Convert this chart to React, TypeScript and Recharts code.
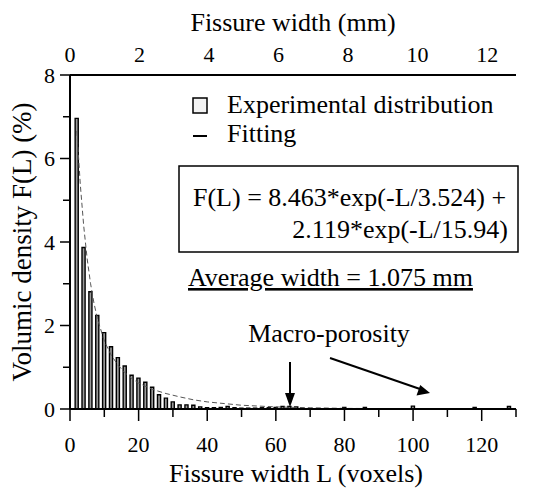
import React from 'react';
import { ComposedChart, Bar, Line, XAxis, YAxis, Legend } from 'recharts';

const FONT = '"Liberation Serif", "Times New Roman", serif';

// Experimental distribution (bars): fissure width L in voxels, density in %
const barWidthsVoxels = [
  2, 4, 6, 8, 10, 12, 14, 16, 18, 20, 22, 24, 26, 28, 30, 32, 34, 36,
  38, 40, 42, 44, 46, 48, 50, 52, 54, 56, 58, 60, 62, 64, 66,
  80, 86, 100, 118, 128,
];
const barDensities = [
  6.96, 3.87, 2.81, 2.24, 1.83, 1.49, 1.23, 1.03, 0.81, 0.74, 0.64, 0.52, 0.34, 0.26, 0.17, 0.1, 0.1, 0.09,
  0.05, 0.03, 0.03, 0.04, 0.06, 0.03, 0.02, 0.02, 0.02, 0.03, 0.03, 0.04, 0.06, 0.06, 0.05,
  0.04, 0.04, 0.07, 0.04, 0.06,
];

// Fitting curve
const fitWidthsVoxels = [2, 3, 4, 5, 6, 7, 8, 10, 12, 14, 16, 18, 20, 24, 28, 32, 36, 40, 45, 50, 55, 60, 70, 80, 90, 100, 110, 120, 130];
const fitDensities = [6.66, 5.38, 4.38, 3.6, 3.0, 2.53, 2.16, 1.63, 1.29, 1.05, 0.87, 0.73, 0.62, 0.47, 0.37, 0.29, 0.22, 0.17, 0.13, 0.09, 0.07, 0.05, 0.03, 0.015, 0.01, 0.006, 0.004, 0.002, 0.001];

const yTicks = [0, 1, 2, 3, 4, 5, 6, 7, 8];
const xTicksVoxels = [0, 10, 20, 30, 40, 50, 60, 70, 80, 90, 100, 110, 120, 130];
const xTicksMm = [0, 2, 4, 6, 8, 10, 12];
const mmDomainMax = 12.83;

const rowsMap = new Map<number, any>();
barWidthsVoxels.forEach((L, i) => {
  rowsMap.set(L, { ...(rowsMap.get(L) || { L }), exp: barDensities[i] });
});
fitWidthsVoxels.forEach((L, i) => {
  rowsMap.set(L, { ...(rowsMap.get(L) || { L }), fit: fitDensities[i] });
});
const data = Array.from(rowsMap.values()).sort((a, b) => a.L - b.L);

const YTick = (props: any) => {
  const { x, y, payload } = props;
  const major = payload.value % 2 === 0;
  return (
    <g>
      <line x1={x - (major ? 10 : 7)} x2={x} y1={y} y2={y} stroke="#000" strokeWidth={1.5} />
      {major && (
        <text x={x - 15} y={y} textAnchor="end" dominantBaseline="central" fontSize={22} fontFamily={FONT} fill="#000">
          {payload.value}
        </text>
      )}
    </g>
  );
};

const BottomTick = (props: any) => {
  const { x, y, payload } = props;
  const major = payload.value % 20 === 0;
  return (
    <g>
      <line x1={x} x2={x} y1={y} y2={y + (major ? 12 : 8)} stroke="#000" strokeWidth={1.5} />
      {major && payload.value <= 120 && (
        <text x={x} y={y + 43} textAnchor="middle" fontSize={22} fontFamily={FONT} fill="#000">
          {payload.value}
        </text>
      )}
    </g>
  );
};

const TopTick = (props: any) => {
  const { x, y, payload } = props;
  return (
    <text x={x} y={y - 13} textAnchor="middle" fontSize={22} fontFamily={FONT} fill="#000">
      {payload.value}
    </text>
  );
};

const YTitle = (props: any) => {
  const vb = props.viewBox || { x: 0, y: 75, width: 70, height: 334 };
  const cx = 22;
  const cy = vb.y + vb.height / 2;
  return (
    <text transform={`translate(${cx},${cy}) rotate(-90)`} textAnchor="middle" dominantBaseline="central" fontSize={27} fontFamily={FONT} fill="#000">
      Volumic density F(L) (%)
    </text>
  );
};

const BottomTitle = (props: any) => {
  const vb = props.viewBox || { x: 70, y: 409, width: 446, height: 80 };
  return (
    <text x={vb.x + vb.width / 2 + 3} y={vb.y + 73} textAnchor="middle" fontSize={26} fontFamily={FONT} fill="#000">
      Fissure width L (voxels)
    </text>
  );
};

const TopTitle = (props: any) => {
  const vb = props.viewBox || { x: 70, y: 0, width: 446, height: 75 };
  return (
    <text x={vb.x + vb.width / 2} y={31} textAnchor="middle" fontSize={26} fontFamily={FONT} fill="#000">
      Fissure width (mm)
    </text>
  );
};

const LegendContent = (props: any) => {
  const payload = props.payload || [];
  return (
    <svg width={330} height={64} style={{ display: 'block', overflow: 'visible' }}>
      {payload.map((p: any, i: number) => {
        const base = 25 + i * 29;
        return (
          <g key={i}>
            {p.type === 'square' || p.type === 'rect' ? (
              <rect x={8} y={base - 15} width={14} height={15} fill="#f2f2f2" stroke="#000" strokeWidth={1.5} />
            ) : (
              <line x1={8} x2={22} y1={base - 6} y2={base - 6} stroke="#000" strokeWidth={2} />
            )}
            <text x={42} y={base} fontSize={26} fontFamily={FONT} fill="#000">
              {p.value}
            </text>
          </g>
        );
      })}
    </svg>
  );
};

const Annotations = () => (
  <svg width={540} height={489} style={{ position: 'absolute', left: 0, top: 0, pointerEvents: 'none' }}>
    <rect x={179} y={166} width={339} height={86} fill="none" stroke="#000" strokeWidth={1.5} />
    <text x={193} y={206} fontSize={26} fontFamily={FONT} fill="#000">F(L) = 8.463*exp(-L/3.524) +</text>
    <text x={508} y={238} textAnchor="end" fontSize={26} fontFamily={FONT} fill="#000">2.119*exp(-L/15.94)</text>
    <text x={188} y={286} fontSize={26} fontFamily={FONT} fill="#000" textDecoration="underline">Average width = 1.075 mm</text>
    <text x={329} y={342} textAnchor="middle" fontSize={26} fontFamily={FONT} fill="#000">Macro-porosity</text>
    <line x1={290} y1={362} x2={290} y2={395} stroke="#000" strokeWidth={2} />
    <path d="M285,393 L295,393 L290,407 z" fill="#000" />
    <line x1={330} y1={358} x2={420} y2={389} stroke="#000" strokeWidth={2} />
    <path d="M430,393 L416.5,395.5 L420.2,385 z" fill="#000" />
  </svg>
);

export default function App() {
  return (
    <div style={{ position: 'absolute', left: 0, top: 0, width: 540, height: 489, background: '#fff' }}>
      <ComposedChart
        width={540}
        height={489}
        data={data}
        margin={{ top: 0, right: 24, bottom: 0, left: 0 }}
        style={{ fontFamily: FONT }}
      >
        <XAxis
          xAxisId="vox"
          dataKey="L"
          type="number"
          domain={[0, 130]}
          ticks={xTicksVoxels}
          interval={0}
          orientation="bottom"
          height={80}
          tickSize={0}
          tickMargin={0}
          tickLine={false}
          axisLine={{ stroke: '#000', strokeWidth: 2 }}
          tick={<BottomTick />}
          label={<BottomTitle />}
          allowDataOverflow
        />
        <XAxis
          xAxisId="mm"
          dataKey="L"
          type="number"
          domain={[0, mmDomainMax]}
          ticks={xTicksMm}
          interval={0}
          orientation="top"
          height={75}
          tickSize={0}
          tickMargin={0}
          tickLine={false}
          axisLine={{ stroke: '#000', strokeWidth: 2 }}
          tick={<TopTick />}
          label={<TopTitle />}
          allowDataOverflow
        />
        <YAxis
          type="number"
          domain={[0, 8]}
          ticks={yTicks}
          interval={0}
          width={70}
          tickSize={0}
          tickMargin={0}
          tickLine={false}
          axisLine={{ stroke: '#000', strokeWidth: 2 }}
          tick={<YTick />}
          label={<YTitle />}
          allowDataOverflow
        />
        <Legend
          layout="horizontal"
          align="center"
          verticalAlign="middle"
          content={<LegendContent />}
          wrapperStyle={{ left: 185, top: 88, width: 330, height: 64 }}
        />
        <Bar
          xAxisId="vox"
          dataKey="exp"
          name="Experimental distribution"
          legendType="square"
          barSize={6}
          fill="#9a9a9a"
          stroke="#000"
          strokeWidth={1.4}
          isAnimationActive={false}
        />
        <Line
          xAxisId="vox"
          dataKey="fit"
          name="Fitting"
          legendType="line"
          type="linear"
          stroke="#555"
          strokeWidth={1}
          strokeDasharray="5 3"
          dot={false}
          activeDot={false}
          connectNulls
          isAnimationActive={false}
        />
      </ComposedChart>
      <Annotations />
    </div>
  );
}
